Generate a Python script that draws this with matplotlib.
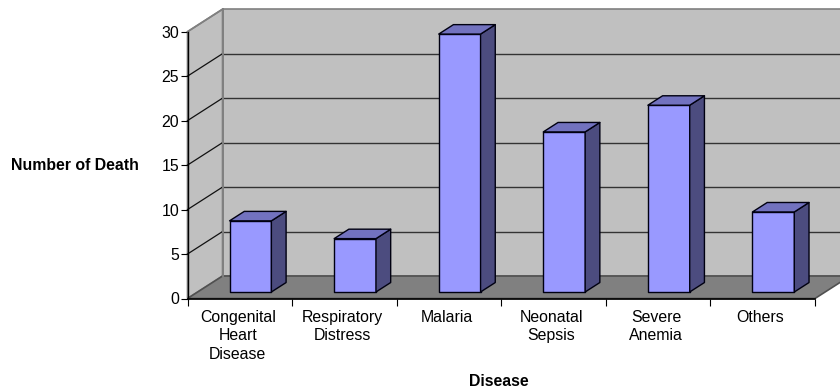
import matplotlib
matplotlib.use('Agg')
import matplotlib.pyplot as plt
from matplotlib.patches import Polygon

diseases = ["Congenital\nHeart\nDisease", "Respiratory\nDistress", "Malaria",
            "Neonatal\nSepsis", "Severe\nAnemia", "Others"]
deaths = [8, 6, 29, 18, 21, 9]
y_ticks = [0, 5, 10, 15, 20, 25, 30]

plt.rcParams['font.family'] = ['Liberation Sans', 'DejaVu Sans']

# depth of the 3D box, in data units
DX = 35 / 104.5
DY = 22.5 / 8.9
WALL_EDGE = "#808080"

fig = plt.figure(figsize=(8.4, 3.9), dpi=100)
ax = fig.add_axes([187.5 / 840, (390 - 298.5) / 390, 627.5 / 840, 266.8 / 390])
ax.set_xlim(0, 6)
ax.set_ylim(0, 30)
ax.patch.set_visible(False)


def box_pt(x, y, d):
    # d = depth fraction, 0 front and 1 back
    return (x + DX * d, y + DY * d)


def add_poly(pts, **kw):
    ax.add_patch(Polygon(pts, closed=True, clip_on=False, **kw))


# ── walls and floor ───────────────────────────────────────────────────

add_poly([box_pt(0, 0, 1), box_pt(6, 0, 1), box_pt(6, 30, 1), box_pt(0, 30, 1)],
         facecolor="#C0C0C0", edgecolor=WALL_EDGE, lw=1.2, zorder=1)
add_poly([box_pt(0, 0, 0), box_pt(0, 0, 1), box_pt(0, 30, 1), box_pt(0, 30, 0)],
         facecolor="#C0C0C0", edgecolor=WALL_EDGE, lw=1.2, zorder=1)
add_poly([box_pt(0, 0, 0), box_pt(6, 0, 0), box_pt(6, 0, 1), box_pt(0, 0, 1)],
         facecolor="#808080", edgecolor="#505050", lw=1.2, zorder=2)

for v in y_ticks[1:-1]:
    ax.plot([0, DX], [v, v + DY], color="#111111", lw=0.9, clip_on=False, zorder=3)
    ax.plot([DX, 6 + DX], [v + DY, v + DY], color="#333333", lw=1.0,
            clip_on=False, zorder=3)
ax.plot([0, DX], [30, 30 + DY], color=WALL_EDGE, lw=1.2, clip_on=False, zorder=3)
ax.plot([DX, DX], [0 + DY, 30 + DY], color=WALL_EDGE, lw=1.4, clip_on=False, zorder=3)

# ── bars ──────────────────────────────────────────────────────────────

bar_w = 0.4
d0, d1 = 0.29, 0.71
for i, val in enumerate(deaths):
    x0 = i + 0.5 - bar_w / 2 + 0.005
    x1 = x0 + bar_w
    style = dict(edgecolor="#000011", lw=1.0, joinstyle="round", zorder=5)
    add_poly([box_pt(x0, 0, d0), box_pt(x1, 0, d0), box_pt(x1, val, d0), box_pt(x0, val, d0)],
             facecolor="#9999FF", **style)
    add_poly([box_pt(x1, 0, d0), box_pt(x1, 0, d1), box_pt(x1, val, d1), box_pt(x1, val, d0)],
             facecolor="#4C4C7F", **style)
    add_poly([box_pt(x0, val, d0), box_pt(x1, val, d0), box_pt(x1, val, d1), box_pt(x0, val, d1)],
             facecolor="#7272BF", **style)

# ── axes and text ─────────────────────────────────────────────────────

for side in ["top", "right"]:
    ax.spines[side].set_visible(False)
ax.spines["left"].set_linewidth(1.0)
ax.spines["bottom"].set_linewidth(1.2)
ax.spines["left"].set_zorder(6)
ax.spines["bottom"].set_zorder(6)

ax.set_yticks(y_ticks)
ax.set_xticks(range(7))
ax.set_xticklabels([])
ax.tick_params(axis="y", labelsize=11.4, length=5, width=0.8, pad=1)
ax.tick_params(axis="x", length=5, width=0.8)

for i, name in enumerate(diseases):
    ax.annotate(name, xy=(i + 0.5, 0), xycoords="data", xytext=(-1.5, -8),
                textcoords="offset points", ha="center", va="top", fontsize=11.4,
                linespacing=1.32)

fig.text(75 / 840, 1 - 165 / 390, "Number of Death", ha="center", va="center",
         fontsize=11.4, fontweight="bold")
fig.text(498.5 / 840, 1 - 381 / 390, "Disease", ha="center", va="center",
         fontsize=11.4, fontweight="bold")

fig.savefig("out.png", dpi=100)
